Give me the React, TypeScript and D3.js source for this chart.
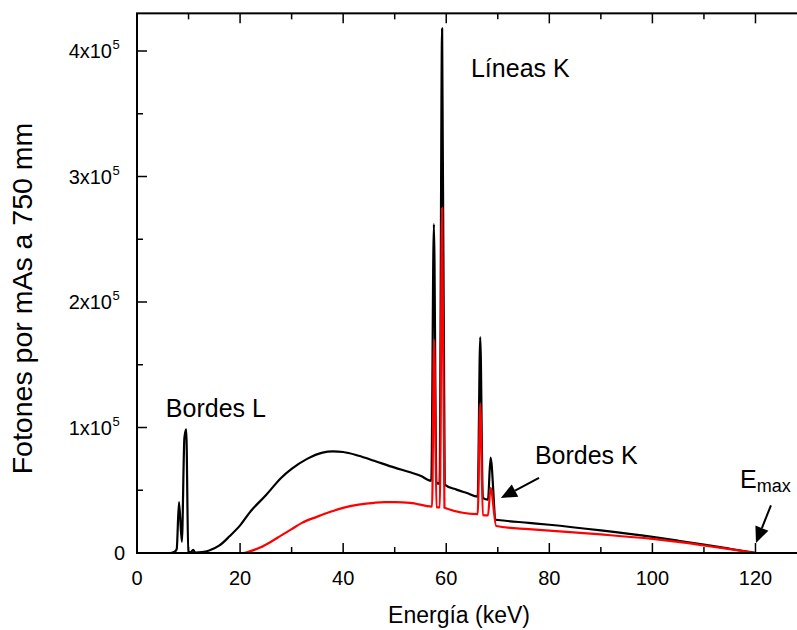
import React from "react";
import * as d3 from "d3";

// Spectrum without added filtration (black), energy in keV / photons per mAs
const openEnergy = [0, 6.5, 7.3, 7.7, 8.15, 8.7, 9.2, 9.55, 9.95, 10.4, 10.9, 11.3, 12, 13, 14, 16, 18, 20, 22, 25, 28, 30, 33, 36, 38, 40, 43, 46, 50, 53, 55, 57.1, 57.6, 58.1, 58.7, 59.2, 59.7, 62, 64, 66.1, 66.6, 67.1, 68.1, 68.6, 69.6, 70, 76, 80, 90, 100, 105, 110, 115, 120];
const openPhotons = [0, 0, 1000, 3000, 40500, 9000, 92000, 98500, 1000, 500, 2500, 300, 500, 1000, 2000, 6000, 13500, 22000, 33000, 46000, 60000, 67000, 75000, 80000, 81000, 80500, 77500, 73500, 68000, 64300, 61500, 57500, 262000, 56000, 55200, 418000, 54500, 50500, 47800, 45000, 172000, 44000, 42500, 76000, 26500, 26300, 24000, 22500, 18000, 12800, 9800, 6700, 3400, 0];

// Filtered spectrum (red)
const filteredEnergy = [0, 20.5, 22, 24, 26, 28, 30, 32, 35, 38, 40, 43, 46, 48, 50, 53, 57.25, 57.65, 58.1, 58.75, 59.2, 59.65, 66.1, 66.6, 67.1, 68.1, 68.6, 69.7, 76, 80, 90, 100, 105, 110, 115, 120];
const filteredPhotons = [0, 0, 1500, 4500, 9000, 14000, 19000, 24000, 29000, 33500, 36000, 38500, 40000, 40500, 40500, 40000, 37000, 170000, 36600, 36400, 275000, 36000, 31000, 119000, 30200, 30000, 52000, 21500, 19000, 17800, 14800, 11200, 8800, 6000, 3100, 0];

const xMajorTicks = [0, 20, 40, 60, 80, 100, 120];
const xMinorTicks = [10, 30, 50, 70, 90, 110];
const yMajorTicks = [0, 100000, 200000, 300000, 400000];
const yMinorTicks = [50000, 150000, 250000, 350000];
const yTickMantissa = ["0", "1", "2", "3", "4"];

const W = 797;
const H = 630;
const left = 137;
const bottom = 553;
const pxPerKeV = 5.154;
const xMax = 130;
const yMax = 430000;

const font = "'Liberation Sans', Arial, Helvetica, sans-serif";

export default function App() {
  const x = d3.scaleLinear().domain([0, xMax]).range([left, left + xMax * pxPerKeV]);
  const y = d3.scaleLinear().domain([0, yMax]).range([bottom, bottom - (yMax / 100000) * 125.5]);
  const top = y(yMax);
  const right = x(xMax);

  const line = d3
    .line<[number, number]>()
    .x((d) => x(d[0]))
    .y((d) => y(d[1]))
    .curve(d3.curveMonotoneX);

  const openPath = line(openEnergy.map((e, i) => [e, openPhotons[i]]) as [number, number][]) || "";
  const filteredPath = line(filteredEnergy.map((e, i) => [e, filteredPhotons[i]]) as [number, number][]) || "";

  const arrow = (x1: number, y1: number, x2: number, y2: number, key: string) => {
    const ax1 = x(x1), ay1 = y(y1), ax2 = x(x2), ay2 = y(y2);
    const dx = ax2 - ax1, dy = ay2 - ay1;
    const len = Math.hypot(dx, dy);
    const ux = dx / len, uy = dy / len;
    const headLen = 16, headHalf = 7;
    const bx = ax2 - ux * headLen, by = ay2 - uy * headLen;
    const p1 = [bx - uy * headHalf, by + ux * headHalf];
    const p2 = [bx + uy * headHalf, by - ux * headHalf];
    return (
      <g key={key}>
        <line x1={ax1} y1={ay1} x2={bx} y2={by} stroke="#000" strokeWidth={2} />
        <path d={`M${ax2},${ay2}L${p1[0]},${p1[1]}L${p2[0]},${p2[1]}Z`} fill="#000" />
      </g>
    );
  };

  const majorLen = 10;
  const minorLen = 6;

  return (
    <svg
      width={W}
      height={H}
      style={{ position: "absolute", left: 0, top: 0, background: "#fff", fontFamily: font }}
    >
      <defs>
        <clipPath id="plotClip">
          <rect x={left} y={top} width={right - left} height={bottom - top} />
        </clipPath>
      </defs>

      {/* data */}
      <g clipPath="url(#plotClip)" fill="none" strokeLinejoin="round">
        <path d={openPath} stroke="#000" strokeWidth={2.2} />
        <path d={filteredPath} stroke="#ff0000" strokeWidth={2.2} />
      </g>

      {/* frame */}
      <rect x={left} y={top} width={right - left} height={bottom - top} fill="none" stroke="#000" strokeWidth={2} />

      {/* x ticks (bottom and top, inward) */}
      {xMajorTicks.map((t) => (
        <g key={"xM" + t}>
          <line x1={x(t)} x2={x(t)} y1={bottom} y2={bottom - majorLen} stroke="#000" strokeWidth={1.5} />
          <line x1={x(t)} x2={x(t)} y1={top} y2={top + majorLen} stroke="#000" strokeWidth={1.5} />
          <text x={x(t)} y={585} textAnchor="middle" fontSize={20}>
            {t}
          </text>
        </g>
      ))}
      {xMinorTicks.map((t) => (
        <g key={"xm" + t}>
          <line x1={x(t)} x2={x(t)} y1={bottom} y2={bottom - minorLen} stroke="#000" strokeWidth={1.5} />
          <line x1={x(t)} x2={x(t)} y1={top} y2={top + minorLen} stroke="#000" strokeWidth={1.5} />
        </g>
      ))}

      {/* y ticks */}
      {yMajorTicks.map((t, i) => (
        <g key={"yM" + t}>
          <line x1={left} x2={left + majorLen} y1={y(t)} y2={y(t)} stroke="#000" strokeWidth={1.5} />
          {t === 0 ? (
            <text x={125} y={y(t) + 7} textAnchor="end" fontSize={20}>
              0
            </text>
          ) : (
            <g>
              <text x={112} y={y(t) + 7} textAnchor="end" fontSize={20}>
                {yTickMantissa[i] + "x10"}
              </text>
              <text x={112.5} y={y(t) - 2} textAnchor="start" fontSize={13}>
                5
              </text>
            </g>
          )}
        </g>
      ))}
      {yMinorTicks.map((t) => (
        <line key={"ym" + t} x1={left} x2={left + minorLen} y1={y(t)} y2={y(t)} stroke="#000" strokeWidth={1.5} />
      ))}

      {/* axis titles */}
      <text x={459} y={623} textAnchor="middle" fontSize={23}>
        Energía (keV)
      </text>
      <text transform="translate(32,298.5) rotate(-90)" textAnchor="middle" fontSize={28.5}>
        Fotones por mAs a 750 mm
      </text>

      {/* annotations */}
      <text x={x(64.8)} y={y(379000)} fontSize={25}>
        Líneas K
      </text>
      <text x={x(5.6)} y={y(108400)} fontSize={25}>
        Bordes L
      </text>
      <text x={x(77.2)} y={y(71000)} fontSize={25}>
        Bordes K
      </text>
      <text x={x(117)} y={y(52000)} fontSize={25}>
        E
        <tspan fontSize={18} dy={4}>
          max
        </tspan>
      </text>
      {arrow(78.0, 59800, 70.6, 43800, "kEdge")}
      {arrow(123.0, 38000, 120.1, 8000, "emax")}
    </svg>
  );
}
